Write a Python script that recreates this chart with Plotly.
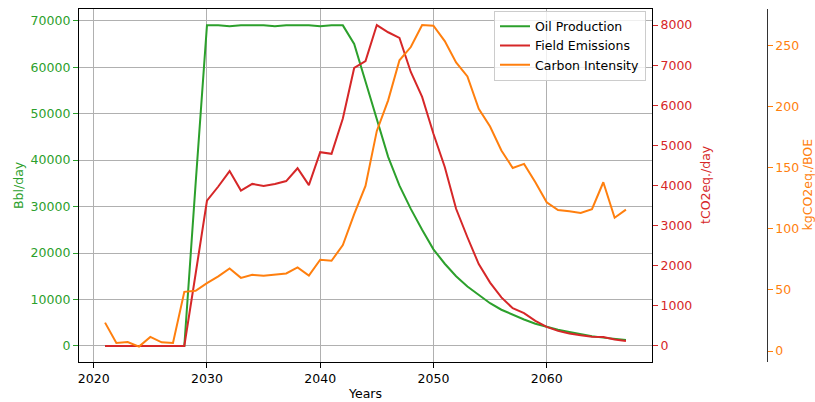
import plotly.graph_objects as go

years = list(range(2021, 2068))

oil_production = [0, 0, 0, 0, 0, 0, 0, 0, 35000,
                  69000, 69000, 68800, 69000, 69000, 69000, 68800, 69000, 69000, 69000,
                  68800, 69000, 69000, 65000, 56900, 48800, 40700, 34500, 29500, 25000,
                  20800, 17700, 15000, 12800, 10900, 9200, 7800, 6700, 5700, 4800,
                  4100, 3500, 3000, 2500, 2100, 1800, 1550, 1300]

field_emissions = [0, 0, 0, 0, 0, 0, 0, 0, 1800,
                   3620, 3975, 4360, 3875, 4040, 3990, 4040, 4110, 4430, 4010,
                   4830, 4790, 5670, 6930, 7100, 8000, 7820, 7680, 6830, 6210,
                   5290, 4460, 3420, 2710, 2040, 1580, 1210, 940, 820, 625,
                   475, 375, 310, 265, 230, 225, 160, 125]

carbon_intensity = [23.2, 6.6, 7.4, 3.6, 11.5, 7.1, 6.6, 48.4, 49.2,
                    55.5, 61.0, 67.5, 59.8, 62.3, 61.5, 62.3, 63.4, 68.3, 61.7,
                    74.6, 73.8, 86.6, 112.0, 135.0, 180.0, 205.0, 237.7, 248.6, 266.6,
                    266.0, 253.5, 236.0, 224.6, 198.0, 183.6, 164.0, 149.7, 153.0, 138.0,
                    121.6, 115.3, 114.2, 112.9, 116.0, 138.0, 109.0, 115.6]

x_ticks = [2020, 2030, 2040, 2050, 2060]
y1_ticks = [0, 10000, 20000, 30000, 40000, 50000, 60000, 70000]
y2_ticks = [0, 1000, 2000, 3000, 4000, 5000, 6000, 7000, 8000]
y3_ticks = [0, 50, 100, 150, 200, 250]

GREEN = "#2ca02c"
RED = "#d62728"
ORANGE = "#ff7f0e"
FONT = "DejaVu Sans"
FS = 12.5

fig = go.Figure()
fig.add_trace(go.Scatter(x=years, y=oil_production, mode="lines", name="Oil Production",
                         line=dict(color=GREEN, width=2), yaxis="y"))
fig.add_trace(go.Scatter(x=years, y=field_emissions, mode="lines", name="Field Emissions",
                         line=dict(color=RED, width=2), yaxis="y2"))
fig.add_trace(go.Scatter(x=years, y=carbon_intensity, mode="lines", name="Carbon Intensity",
                         line=dict(color=ORANGE, width=2), yaxis="y3"))

L, R, T, B = 79, 15, 9, 40
W, H = 815, 402
pw = W - L - R
dom_right = 573 / pw
pos3 = (766.7 - L) / pw

def px(xpix):
    return (xpix - L) / pw

def py(ypix):
    return (H - B - ypix) / (H - T - B)

fig.update_layout(
    width=W, height=H,
    margin=dict(l=L, r=R, t=T, b=B, pad=0),
    paper_bgcolor="white", plot_bgcolor="white",
    font=dict(family=FONT, size=FS, color="black"),
    showlegend=True,
    legend=dict(x=px(646), y=py(10.5), xanchor="right", yanchor="top",
                bgcolor="rgba(255,255,255,0.8)", bordercolor="#cccccc", borderwidth=1,
                font=dict(family=FONT, size=FS, color="black"),
                tracegroupgap=0, itemwidth=30),
    xaxis=dict(domain=[0, dom_right], range=[2018.7, 2069.3],
               tickvals=x_ticks, ticks="outside", ticklen=5, tickcolor="black",
               showgrid=True, gridcolor="#b0b0b0", gridwidth=1,
               showline=True, linecolor="black", linewidth=1.3, mirror=True,
               zeroline=False, tickfont=dict(color="black")),
    yaxis=dict(range=[-3446, 72520], tickvals=y1_ticks, ticktext=[str(v) for v in y1_ticks],
               ticks="outside", ticklen=5, tickcolor=GREEN,
               tickfont=dict(color=GREEN),
               showgrid=True, gridcolor="#b0b0b0", gridwidth=1,
               showline=True, linecolor="black", linewidth=1.3, mirror=True,
               zeroline=False),
    yaxis2=dict(range=[-400, 8400], tickvals=y2_ticks, ticktext=[str(v) for v in y2_ticks],
                overlaying="y", side="right", anchor="x",
                ticks="outside", ticklen=5, tickcolor=RED, tickfont=dict(color=RED),
                showgrid=False, zeroline=False, showline=False),
    yaxis3=dict(range=[-9.0, 279.7], tickvals=y3_ticks, ticktext=[str(v) for v in y3_ticks],
                overlaying="y", side="right", anchor="free", position=pos3,
                ticks="outside", ticklen=5, tickcolor=ORANGE, tickfont=dict(color=ORANGE),
                showgrid=False, zeroline=False,
                showline=True, linecolor="#333333", linewidth=1.3),
    annotations=[
        dict(text="Years", x=px(365), y=py(393), xref="paper", yref="paper",
             showarrow=False, font=dict(color="black", size=FS), xanchor="center", yanchor="middle"),
        dict(text="Bbl/day", x=px(18), y=py(185), xref="paper", yref="paper",
             showarrow=False, textangle=-90, font=dict(color=GREEN, size=FS),
             xanchor="center", yanchor="middle"),
        dict(text="tCO2eq./day", x=px(705), y=py(185), xref="paper", yref="paper",
             showarrow=False, textangle=-90, font=dict(color=RED, size=FS),
             xanchor="center", yanchor="middle"),
        dict(text="kgCO2eq./BOE", x=px(806.5), y=py(185), xref="paper", yref="paper",
             showarrow=False, textangle=-90, font=dict(color=ORANGE, size=FS),
             xanchor="center", yanchor="middle"),
    ],
)

fig.write_html("out.html")
